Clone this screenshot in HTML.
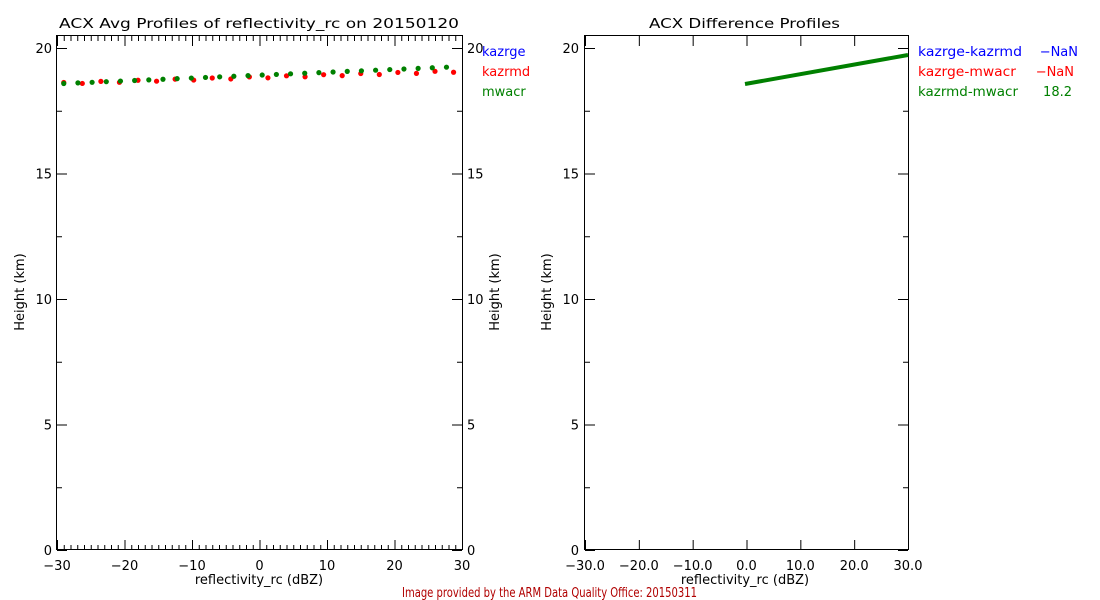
<!DOCTYPE html>
<html><head><meta charset="utf-8"><style>
body{margin:0;background:#fff;}
svg{display:block;font-family:"DejaVu Sans","Liberation Sans",sans-serif;}
text{font-size:13px;}
</style></head><body>
<svg width="1100" height="600" viewBox="0 0 1100 600" xmlns="http://www.w3.org/2000/svg">
<rect width="1100" height="600" fill="#fff"/>
<g stroke="#000" stroke-width="1" fill="none">
<rect x="56.5" y="35.5" width="406" height="514"/>
<rect x="584.5" y="35.5" width="324" height="514"/>
</g>
<g id="ticks" stroke="#000" stroke-width="1"></g>
<text x="59" y="28" font-size="16" textLength="400" lengthAdjust="spacingAndGlyphs">ACX Avg Profiles of reflectivity_rc on 20150120</text>
<text x="649" y="28" font-size="16" textLength="191" lengthAdjust="spacingAndGlyphs">ACX Difference Profiles</text>
<g id="lbl" font-size="13"></g>
<text x="259" y="584" text-anchor="middle">reflectivity_rc (dBZ)</text>
<text x="745" y="584" text-anchor="middle">reflectivity_rc (dBZ)</text>
<text transform="translate(24,292) rotate(-90)" text-anchor="middle">Height (km)</text>
<text transform="translate(499,292) rotate(-90)" text-anchor="middle">Height (km)</text>
<text transform="translate(551,292) rotate(-90)" text-anchor="middle">Height (km)</text>
<text x="402" y="597" fill="#b00000" font-size="11" textLength="295" lengthAdjust="spacingAndGlyphs">Image provided by the ARM Data Quality Office: 20150311</text>
<text x="482" y="56" fill="#0000ff">kazrge</text>
<text x="482" y="76" fill="#ff0000">kazrmd</text>
<text x="482" y="96" fill="#008000">mwacr</text>
<text x="918" y="56" fill="#0000ff" textLength="104" lengthAdjust="spacingAndGlyphs">kazrge-kazrmd</text><text x="1078" y="56" fill="#0000ff" text-anchor="end">−NaN</text>
<text x="918" y="76" fill="#ff0000" textLength="98" lengthAdjust="spacingAndGlyphs">kazrge-mwacr</text><text x="1074" y="76" fill="#ff0000" text-anchor="end">−NaN</text>
<text x="918" y="96" fill="#008000" textLength="100" lengthAdjust="spacingAndGlyphs">kazrmd-mwacr</text><text x="1072" y="96" fill="#008000" text-anchor="end">18.2</text>
<line x1="745" y1="84" x2="908" y2="55" stroke="#008000" stroke-width="4"/>
<g id="dots"></g>
</svg>
<script>
var ns="http://www.w3.org/2000/svg";
function el(p,t,a,txt){var e=document.createElementNS(ns,t);for(var k in a)e.setAttribute(k,a[k]);if(txt!==undefined)e.textContent=txt;document.getElementById(p).appendChild(e);}
function Y(h){return 550-h*25.1;}
function XL(v){return 57+(v+30)*405/60;}
function XR(v){return 585+(v+30)*323/60;}
for(var v=-30;v<=30;v++){var x=XL(v)+0.5,L=(v%10==0)?10:5;
el("ticks","line",{x1:x,y1:550,x2:x,y2:550-L});el("ticks","line",{x1:x,y1:36,x2:x,y2:36+L});}
[-30,-20,-10,0,10,20,30].forEach(function(v){el("lbl","text",{x:XL(v),y:570,"text-anchor":"middle"},v<0?"−"+(-v):""+v);
var x=XR(v)+0.5;el("ticks","line",{x1:x,y1:550,x2:x,y2:540});el("ticks","line",{x1:x,y1:36,x2:x,y2:46});
el("lbl","text",{x:XR(v),y:570,"text-anchor":"middle"},(v<0?"−"+(-v):""+v)+".0");});
for(var h=0;h<=20;h+=2.5){var y=Y(h)+0.5,L=(h%5==0)?10:5;
[[57,1],[462,-1],[585,1],[908,-1]].forEach(function(a){el("ticks","line",{x1:a[0],y1:y,x2:a[0]+a[1]*L,y2:y});});
if(h%5==0){el("lbl","text",{x:52,y:Y(h)+5,"text-anchor":"end"},""+h);
el("lbl","text",{x:467,y:Y(h)+5},""+h);el("lbl","text",{x:579,y:Y(h)+5,"text-anchor":"end"},""+h);}}
for(var i=0;i<22;i++){var v=-29+i*2.75;var y=83-(v+29)/59*12+((i%2)?1:-0.5);
el("dots","circle",{cx:XL(v),cy:y,r:2.6,fill:"#ff0000"});}
for(var i=0;i<28;i++){var v=-29+i*2.1;var y=83.5-(v+29)/59*17;
el("dots","circle",{cx:XL(v),cy:y,r:2.6,fill:"#008000"});}
</script>
</body></html>
